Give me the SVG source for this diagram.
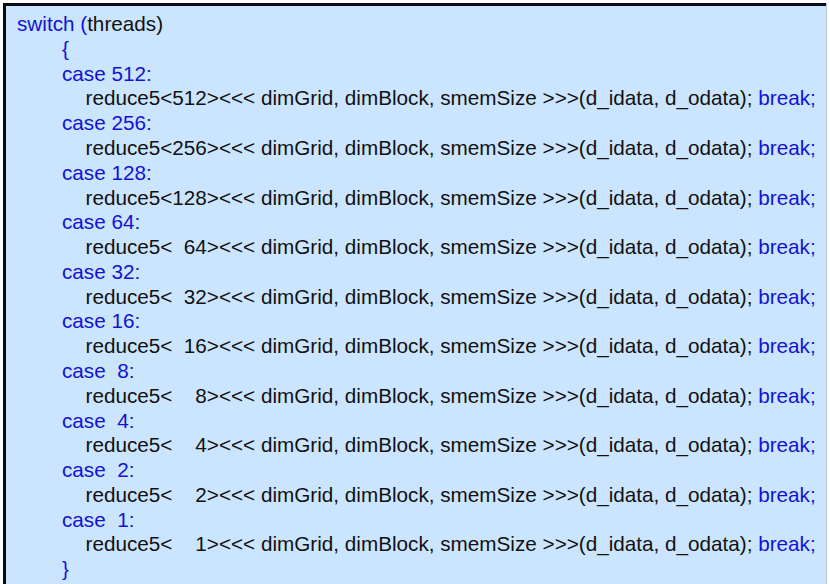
<svg xmlns="http://www.w3.org/2000/svg" width="830" height="584" viewBox="0 0 830 584">
<style>
text{font-family:"Liberation Sans",Arial,sans-serif;font-size:20.7px;fill:#111111;white-space:pre}
.k{fill:#1212d6}
</style>
<rect x="0" y="0" width="830" height="584" fill="#ffffff"/>
<g id="code-box">
<rect x="3" y="3" width="823.5" height="590" fill="#cce5ff"/>
<line x1="826.5" y1="3" x2="826.5" y2="584" stroke="#b8c4d0" stroke-width="1"/>
<line x1="3" y1="4.5" x2="826" y2="4.5" stroke="#0a0a14" stroke-width="3"/>
<line x1="4.5" y1="3" x2="4.5" y2="584" stroke="#0a0a14" stroke-width="3"/>
</g>
<g id="code" xml:space="preserve">
<text x="17" y="31.1"><tspan class="k">switch (</tspan>threads)</text>
<text x="62" y="55.9" class="k">{</text>
<text x="62" y="80.7" class="k">case 512:</text>
<text x="85.5" y="105.4">reduce5&lt;512&gt;&lt;&lt;&lt; dimGrid, dimBlock, smemSize &gt;&gt;&gt;(d_idata, d_odata); <tspan class="k">break;</tspan></text>
<text x="62" y="130.2" class="k">case 256:</text>
<text x="85.5" y="155.0">reduce5&lt;256&gt;&lt;&lt;&lt; dimGrid, dimBlock, smemSize &gt;&gt;&gt;(d_idata, d_odata); <tspan class="k">break;</tspan></text>
<text x="62" y="179.8" class="k">case 128:</text>
<text x="85.5" y="204.5">reduce5&lt;128&gt;&lt;&lt;&lt; dimGrid, dimBlock, smemSize &gt;&gt;&gt;(d_idata, d_odata); <tspan class="k">break;</tspan></text>
<text x="62" y="229.3" class="k">case 64:</text>
<text x="85.5" y="254.1">reduce5&lt;  64&gt;&lt;&lt;&lt; dimGrid, dimBlock, smemSize &gt;&gt;&gt;(d_idata, d_odata); <tspan class="k">break;</tspan></text>
<text x="62" y="278.9" class="k">case 32:</text>
<text x="85.5" y="303.6">reduce5&lt;  32&gt;&lt;&lt;&lt; dimGrid, dimBlock, smemSize &gt;&gt;&gt;(d_idata, d_odata); <tspan class="k">break;</tspan></text>
<text x="62" y="328.4" class="k">case 16:</text>
<text x="85.5" y="353.2">reduce5&lt;  16&gt;&lt;&lt;&lt; dimGrid, dimBlock, smemSize &gt;&gt;&gt;(d_idata, d_odata); <tspan class="k">break;</tspan></text>
<text x="62" y="378.0" class="k">case  8:</text>
<text x="85.5" y="402.7">reduce5&lt;    8&gt;&lt;&lt;&lt; dimGrid, dimBlock, smemSize &gt;&gt;&gt;(d_idata, d_odata); <tspan class="k">break;</tspan></text>
<text x="62" y="427.5" class="k">case  4:</text>
<text x="85.5" y="452.3">reduce5&lt;    4&gt;&lt;&lt;&lt; dimGrid, dimBlock, smemSize &gt;&gt;&gt;(d_idata, d_odata); <tspan class="k">break;</tspan></text>
<text x="62" y="477.1" class="k">case  2:</text>
<text x="85.5" y="501.8">reduce5&lt;    2&gt;&lt;&lt;&lt; dimGrid, dimBlock, smemSize &gt;&gt;&gt;(d_idata, d_odata); <tspan class="k">break;</tspan></text>
<text x="62" y="526.6" class="k">case  1:</text>
<text x="85.5" y="551.4">reduce5&lt;    1&gt;&lt;&lt;&lt; dimGrid, dimBlock, smemSize &gt;&gt;&gt;(d_idata, d_odata); <tspan class="k">break;</tspan></text>
<text x="62" y="576.2" class="k">}</text>
</g>
</svg>
